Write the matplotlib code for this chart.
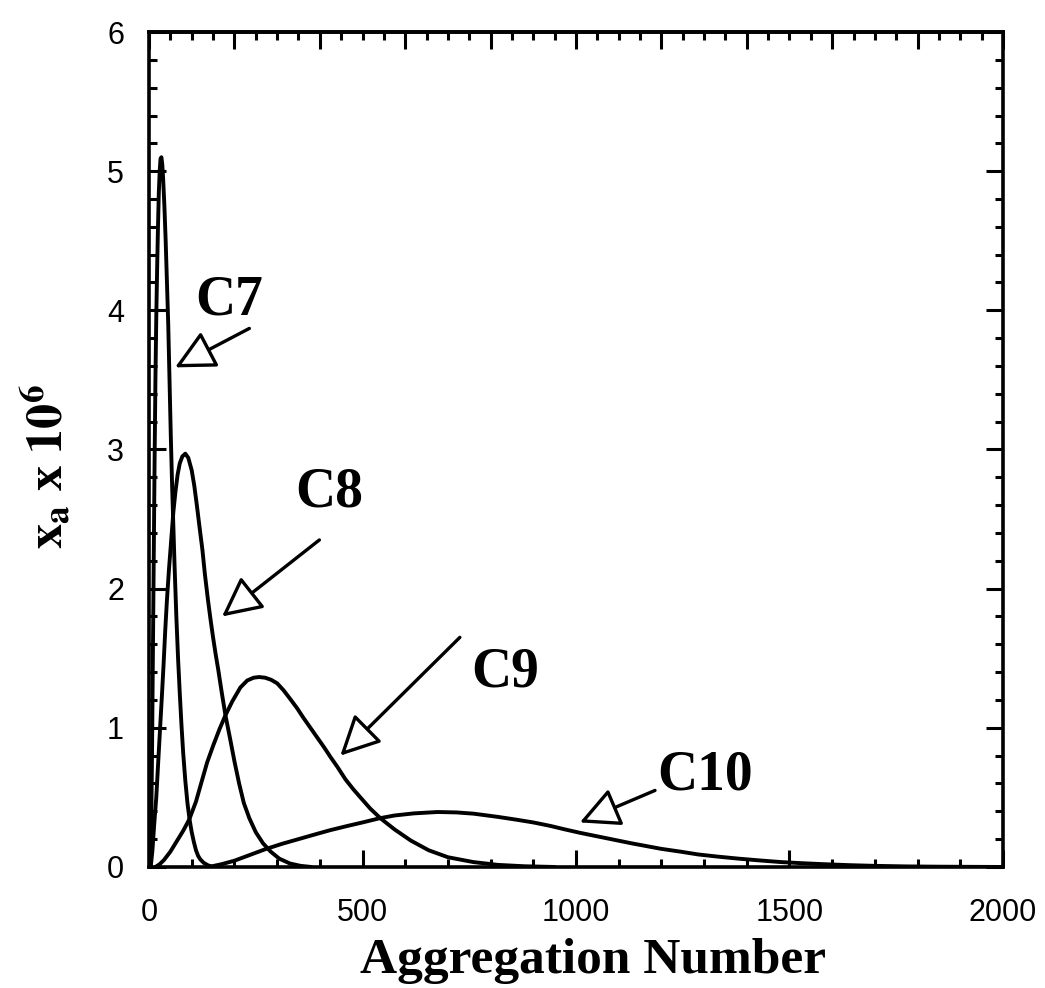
import matplotlib
matplotlib.use("Agg")
import matplotlib.pyplot as plt
from matplotlib.ticker import MultipleLocator

# ---- data (aggregation number, x_a * 1e6) ----
c7_n = [3, 5, 7, 9, 11, 13, 15, 17, 19, 21, 23, 25, 27, 29, 31, 33, 36, 39, 42, 45, 48, 51, 54, 57, 60,
        64, 68, 72, 76, 80, 85, 90, 95, 100, 105, 110, 115, 120, 128, 138, 150]
c7_y = [0.0, 0.25, 0.8, 1.5, 2.2, 2.9, 3.5, 3.95, 4.3, 4.6, 4.85, 5.0, 5.09, 5.1, 5.05, 4.95, 4.75, 4.5, 4.2, 3.9,
        3.5, 3.1, 2.75, 2.45, 2.15, 1.8, 1.5, 1.25, 1.02, 0.82, 0.62, 0.46, 0.34, 0.25, 0.18, 0.12, 0.08, 0.055,
        0.03, 0.012, 0.0]

c8_n = [4, 8, 12, 17, 22, 26, 30, 34, 38, 42, 47, 52, 57, 62, 67, 72, 78, 85, 92, 100, 106, 112, 118, 125,
        131, 138, 144, 150, 156, 162, 170, 179, 190, 200, 211, 222, 235, 250, 267, 285, 305, 330, 355, 380]
c8_y = [0.0, 0.12, 0.3, 0.5, 0.78, 1.0, 1.22, 1.45, 1.7, 1.92, 2.15, 2.35, 2.55, 2.7, 2.82, 2.9, 2.95, 2.97,
        2.94, 2.85, 2.74, 2.6, 2.45, 2.28, 2.1, 1.92, 1.78, 1.65, 1.53, 1.42, 1.26, 1.09, 0.92, 0.76, 0.6, 0.46,
        0.35, 0.25, 0.17, 0.11, 0.06, 0.025, 0.008, 0.0]

c9_n = [15, 25, 35, 50, 66, 80, 94, 110, 122, 136, 150, 165, 179, 195, 214, 230, 245, 258, 272, 286, 300,
        315, 330, 347, 362, 378, 394, 410, 425, 441, 460, 478, 495, 518, 542, 575, 613, 655, 700, 760, 817,
        880, 950]
c9_y = [0.0, 0.02, 0.05, 0.11, 0.19, 0.26, 0.34, 0.47, 0.6, 0.75, 0.87, 0.99, 1.09, 1.19, 1.29, 1.34, 1.36,
        1.365, 1.36, 1.345, 1.32, 1.27, 1.21, 1.14, 1.07, 1.0, 0.93, 0.86, 0.79, 0.72, 0.63, 0.56, 0.5, 0.42,
        0.35, 0.27, 0.19, 0.12, 0.07, 0.035, 0.015, 0.005, 0.0]

c10_n = [140, 170, 200, 235, 270, 310, 350, 390, 425, 465, 500, 540, 575, 620, 676, 720, 760, 817, 860, 900,
         940, 974, 1010, 1050, 1090, 1130, 1165, 1200, 1245, 1286, 1330, 1380, 1430, 1481, 1530, 1580, 1640,
         1700, 1775, 1850, 1925, 2000]
c10_y = [0.0, 0.02, 0.045, 0.085, 0.125, 0.165, 0.2, 0.235, 0.265, 0.295, 0.32, 0.35, 0.37, 0.385, 0.395,
         0.392, 0.383, 0.36, 0.34, 0.32, 0.295, 0.27, 0.245, 0.22, 0.195, 0.17, 0.15, 0.13, 0.11, 0.09, 0.075,
         0.06, 0.047, 0.035, 0.027, 0.02, 0.013, 0.008, 0.004, 0.002, 0.001, 0.0]

labels = ["C7", "C8", "C9", "C10"]
label_pos = [(188, 4.07), (423, 2.69), (833, 1.40), (1303, 0.66)]
arrow_tail = [(235, 3.87), (399, 2.35), (728, 1.65), (1185, 0.55)]
arrow_tip = [(61, 3.59), (171, 1.80), (448, 0.80), (1009, 0.32)]

x_ticks = [0, 500, 1000, 1500, 2000]
y_ticks = [0, 1, 2, 3, 4, 5, 6]
top_ticks = list(range(0, 2001, 200))

plt.rcParams['mathtext.fontset'] = 'stix'
plt.rcParams['font.family'] = ['Liberation Sans', 'DejaVu Sans']

fig = plt.figure(figsize=(10.45, 9.88), dpi=100)
ax = fig.add_axes([0.1426, 0.1225, 0.8172, 0.8451])

lw = 2.8
for n, y in [(c7_n, c7_y), (c8_n, c8_y), (c9_n, c9_y), (c10_n, c10_y)]:
    ax.plot(n, y, color='black', lw=lw, solid_capstyle='round', solid_joinstyle='round')

ax.set_xlim(0, 2000)
ax.set_ylim(0, 6)

for s in ax.spines.values():
    s.set_linewidth(2.6)

ax.set_xticks(x_ticks)
ax.set_yticks(y_ticks)
ax.xaxis.set_minor_locator(MultipleLocator(100))
ax.yaxis.set_minor_locator(MultipleLocator(0.2))
ax.tick_params(which='both', direction='in', right=True, top=False, width=2.2, labelsize=22)
ax.tick_params(which='major', length=12)
ax.tick_params(which='minor', length=6)
ax.tick_params(axis='x', which='major', pad=22)
ax.tick_params(axis='y', which='major', pad=18)

# top axis has its own tick pattern (major 200, minor 50)
top = ax.secondary_xaxis('top')
top.set_xticks(top_ticks)
top.xaxis.set_minor_locator(MultipleLocator(50))
top.tick_params(which='both', direction='in', width=2.2, labeltop=False)
top.tick_params(which='major', length=12)
top.tick_params(which='minor', length=6)
top.spines['top'].set_linewidth(2.6)

ax.set_xlabel('Aggregation Number', fontfamily='Liberation Serif', fontweight='bold', fontsize=37)
ax.xaxis.set_label_coords(0.52, -0.085)
ax.set_ylabel(r'$\mathbf{x_a}$ x $\mathbf{10^6}$', fontfamily='Liberation Serif', fontweight='bold',
              fontsize=36)
ax.yaxis.set_label_coords(-0.087, 0.48)

for lab, pos, tail, tip in zip(labels, label_pos, arrow_tail, arrow_tip):
    ax.text(pos[0], pos[1], lab, fontfamily='Liberation Serif', fontweight='bold', fontsize=40,
            ha='center', va='center')
    ax.annotate('', xy=tip, xytext=tail,
                arrowprops=dict(arrowstyle='-|>,head_length=0.7,head_width=0.35', fc='white', ec='black',
                                lw=2.4, mutation_scale=35, shrinkA=0, shrinkB=0))

fig.savefig('out.png', dpi=100, facecolor='white')
